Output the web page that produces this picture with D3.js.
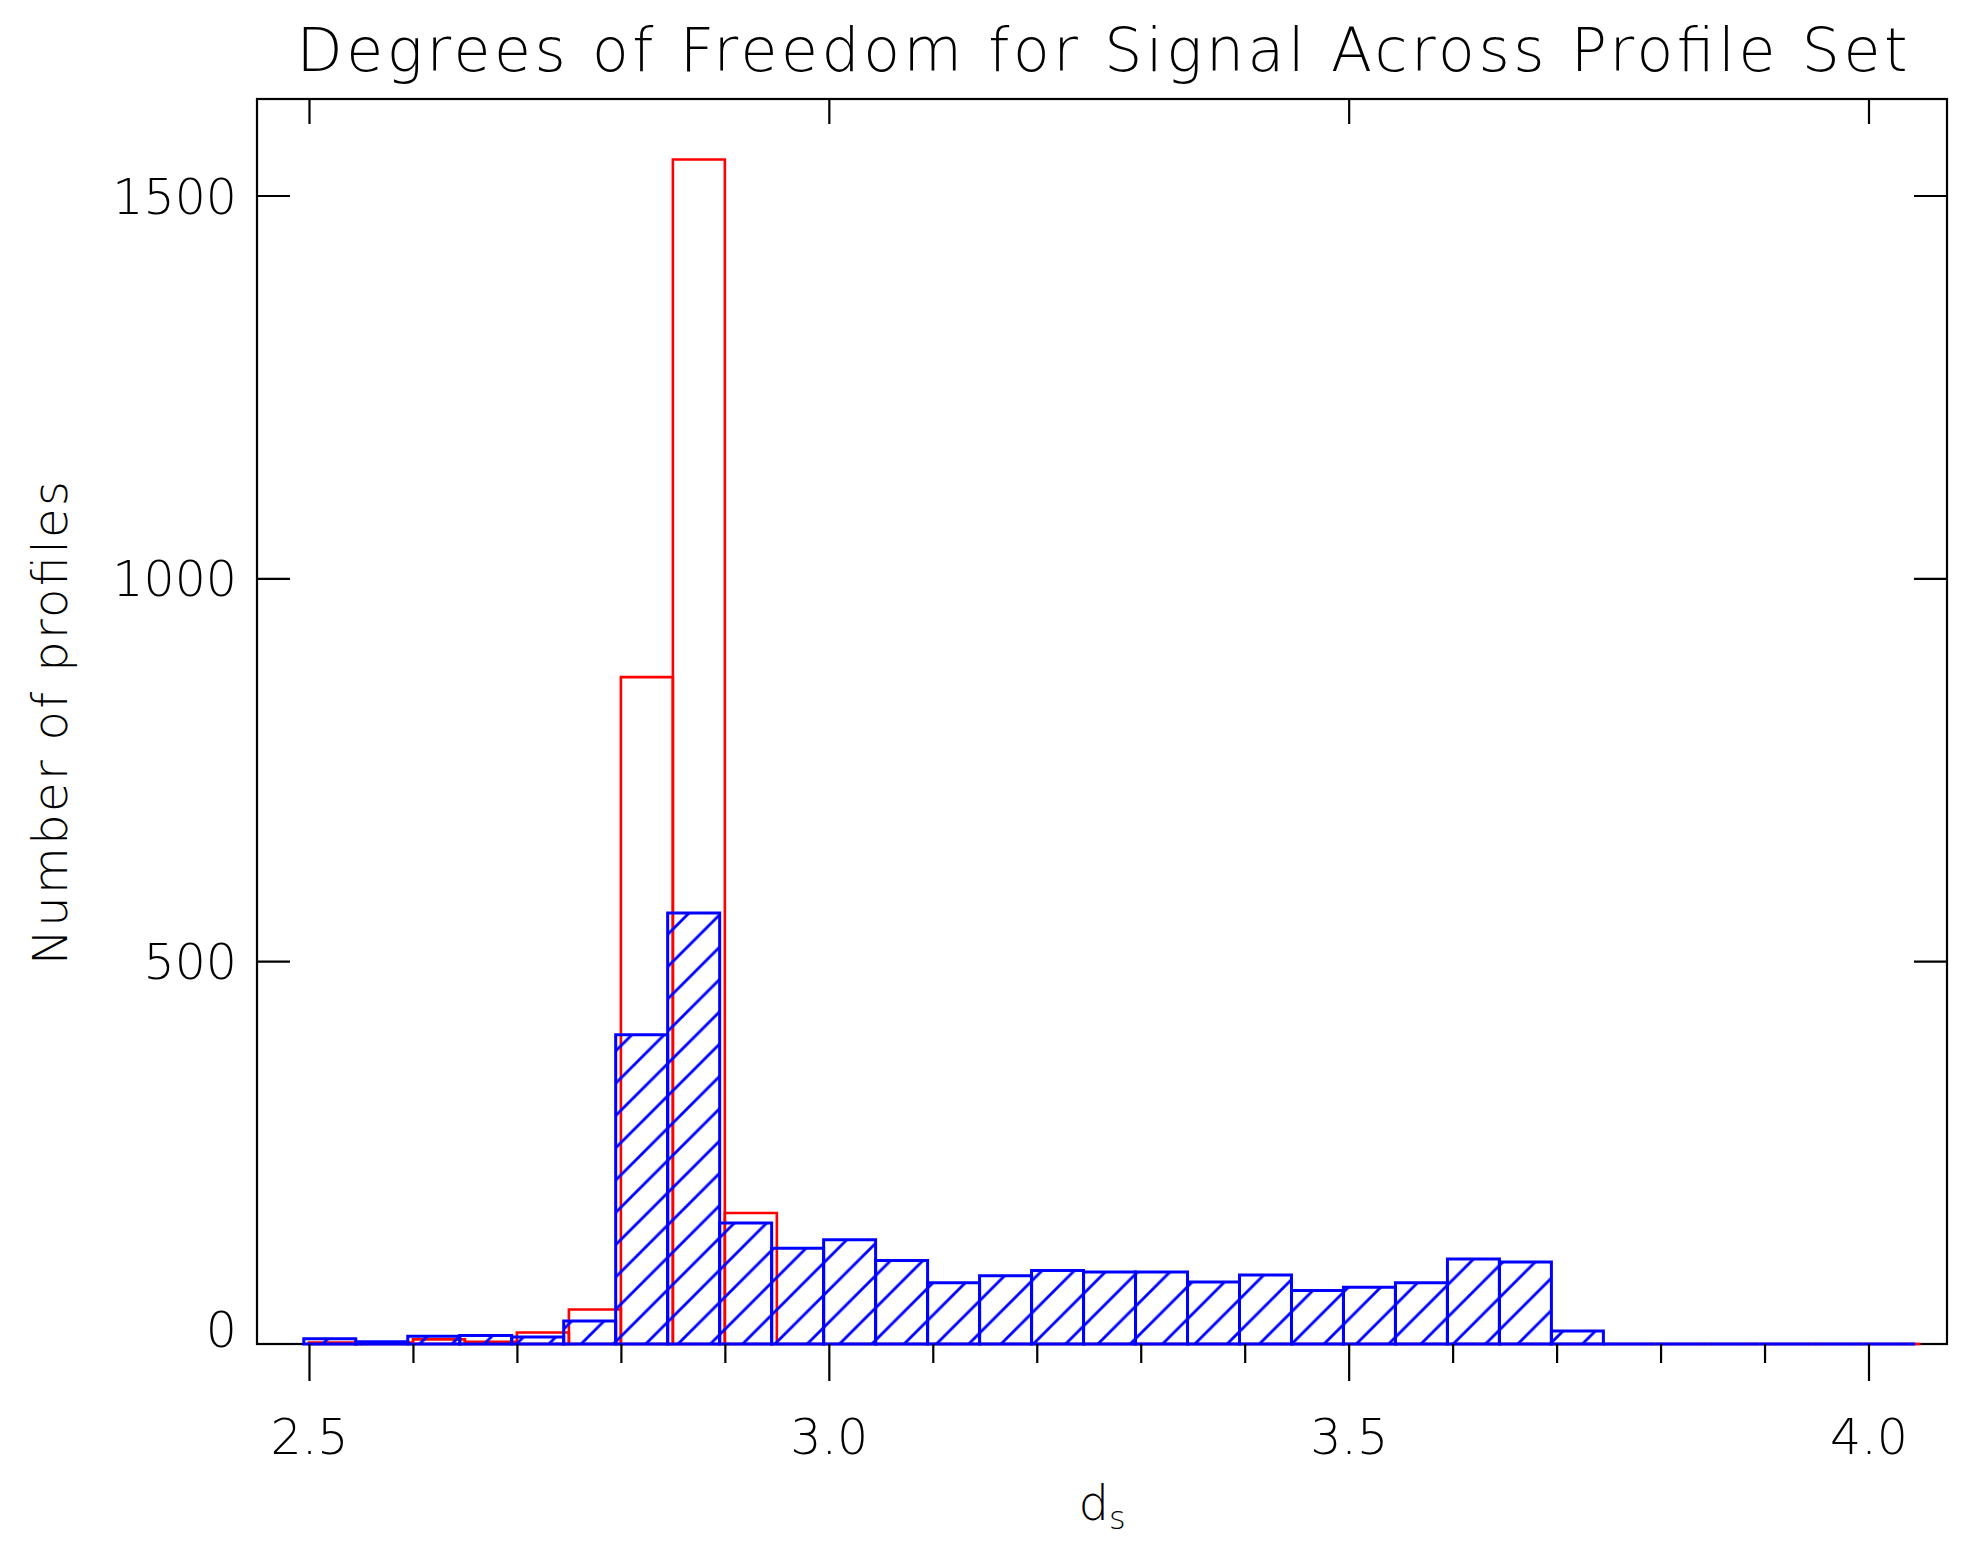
<!DOCTYPE html>
<html><head><meta charset="utf-8">
<script src="https://cdn.jsdelivr.net/npm/d3@7"></script>
<style>
html,body{margin:0;padding:0;background:#fff;}
svg{display:block;background:#fff;}
text{font-family:"DejaVu Sans",sans-serif;font-weight:200;fill:#000;}
</style></head><body>
<svg id="c" width="1986" height="1548"></svg>
<script>
// ---- data ----
const redBins = [2.50,2.55,2.60,2.65,2.70,2.75,2.80,2.85,2.90,2.95,3.00,3.05,3.10,3.15,3.20,3.25,3.30,3.35,3.40,3.45,3.50,3.55,3.60,3.65,3.70,3.75,3.80,3.85,3.90,3.95,4.00];
const redCounts = [2,2,6,3,15,45,871,1547,171,0,0,0,0,0,0,0,0,0,0,0,0,0,0,0,0,0,0,0,0,0,0];
const blueBins = [2.495,2.545,2.595,2.645,2.695,2.745,2.795,2.845,2.895,2.945,2.995,3.045,3.095,3.145,3.195,3.245,3.295,3.345,3.395,3.445,3.495,3.545,3.595,3.645,3.695,3.745,3.795,3.845,3.895,3.945,3.995];
const blueCounts = [7,3,10,11,9,30,404,563,158,125,136,109,80,89,96,94,94,81,90,70,74,80,111,107,17,0,0,0,0,0,0];
const binWidth = 0.05;
const xMajorTicks = [2.5,3.0,3.5,4.0];
const xMinorTicks = [2.6,2.7,2.8,2.9,3.1,3.2,3.3,3.4,3.6,3.7,3.8,3.9];
const yTicks = [0,500,1000,1500];
const xDomain = [2.45,4.0755];
const yDomain = [0,1626];
const titleText = "Degrees of Freedom for Signal Across Profile Set";
const yTitle = "Number of profiles";
const xTitleMain = "d", xTitleSub = "s";

// ---- layout ----
const W = 1986, H = 1548;
const L = 257, R = 1947, T = 99, B = 1344;
const svg = d3.select("#c");
const x = d3.scaleLinear().domain(xDomain).range([L, R]);
const y = d3.scaleLinear().domain(yDomain).range([B, T]);

// hatch pattern
const sp = 32.3;
const defs = svg.append("defs");
const pat = defs.append("pattern").attr("id","hatch").attr("patternUnits","userSpaceOnUse")
  .attr("width",sp).attr("height",sp).attr("patternTransform","translate(19.4,0)");
pat.append("path")
  .attr("d",`M0,${sp} L${sp},0 M${-sp/4},${sp/4} L${sp/4},${-sp/4} M${sp*0.75},${sp*1.25} L${sp*1.25},${sp*0.75}`)
  .attr("stroke","#0000ff").attr("stroke-width",2.8).attr("fill","none");

// frame
svg.append("rect").attr("x",L).attr("y",T).attr("width",R-L).attr("height",B-T)
  .attr("fill","none").attr("stroke","#000").attr("stroke-width",2.2);

function barPath(s, v){
  const x0 = x(s), x1 = x(s+binWidth), y0 = y(0), y1 = y(v);
  return `M${x0},${y0} V${y1} H${x1} V${y0} Z`;
}

// red histogram
svg.append("g").selectAll("path").data(redBins.map((b,i)=>[b,redCounts[i]])).join("path")
  .attr("d",d=>barPath(d[0],d[1])).attr("fill","none").attr("stroke","#ff0000").attr("stroke-width",2.6);

// blue hatched histogram
svg.append("g").selectAll("path").data(blueBins.map((b,i)=>[b,blueCounts[i]])).join("path")
  .attr("d",d=>barPath(d[0],d[1])).attr("fill","url(#hatch)").attr("stroke","#0000ff").attr("stroke-width",3);

// axes
function styleAxis(g){
  g.select(".domain").remove();
  g.selectAll(".tick line").attr("stroke","#000").attr("stroke-width",2.2);
  g.selectAll(".tick text").attr("font-family","DejaVu Sans").attr("font-weight",200).attr("fill","#000");
}
const fs = 49;
// bottom major (outward) with labels
svg.append("g").attr("transform",`translate(0,${B})`)
  .call(d3.axisBottom(x).tickValues(xMajorTicks).tickSize(37).tickPadding(38).tickFormat(d3.format(".1f")))
  .call(styleAxis).call(g=>g.selectAll(".tick text").attr("font-size",fs));
// bottom minor
svg.append("g").attr("transform",`translate(0,${B})`)
  .call(d3.axisBottom(x).tickValues(xMinorTicks).tickSize(19).tickFormat(""))
  .call(styleAxis);
// top major, inward
svg.append("g").attr("transform",`translate(0,${T})`)
  .call(d3.axisTop(x).tickValues(xMajorTicks).tickSize(-25).tickFormat(""))
  .call(styleAxis);
// left, inward with labels
svg.append("g").attr("transform",`translate(${L},0)`)
  .call(d3.axisLeft(y).tickValues(yTicks).tickSize(-33).tickPadding(20).tickFormat(d3.format("d")))
  .call(styleAxis)
  .call(g=>g.selectAll(".tick text").attr("font-size",fs).attr("dy",d=>d===0?"0.05em":"0.36em"))
  .call(g=>g.selectAll(".tick").filter(d=>d===0).select("line").remove());
// right, inward
svg.append("g").attr("transform",`translate(${R},0)`)
  .call(d3.axisRight(y).tickValues(yTicks.filter(d=>d>0)).tickSize(-33).tickFormat(""))
  .call(styleAxis);

// title
svg.append("text").attr("x",(L+R)/2).attr("y",71).attr("text-anchor","middle")
  .attr("font-size",60).attr("textLength",1611).attr("lengthAdjust","spacing").text(titleText);

// y title
svg.append("text").attr("transform",`translate(67,723) rotate(-90)`).attr("text-anchor","middle")
  .attr("font-size",48).attr("textLength",484).attr("lengthAdjust","spacing").text(yTitle);

// x title with subscript
const xt = svg.append("text").attr("x",(L+R)/2).attr("y",1520).attr("text-anchor","middle").attr("font-size",48);
xt.append("tspan").text(xTitleMain);
xt.append("tspan").attr("dy",9).attr("font-size",32).text(xTitleSub);
</script>
</body></html>
